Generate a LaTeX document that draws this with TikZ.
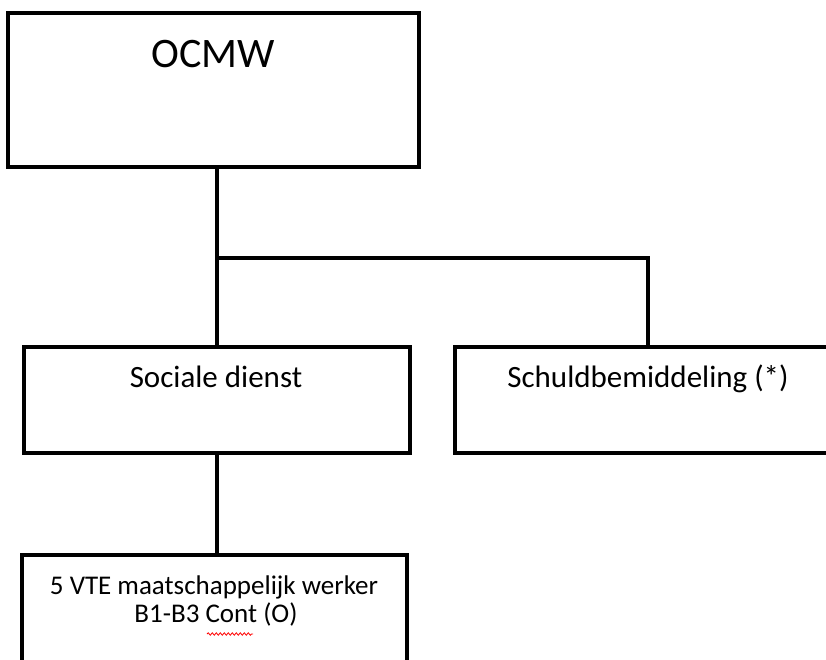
\documentclass[tikz,border=0pt]{standalone}
\usepackage{fontspec}
\setmainfont{Carlito}
\usetikzlibrary{decorations.pathmorphing}
\begin{document}
\begin{tikzpicture}[x=1pt,y=-1pt,
  orgbox/.style={draw=black,line width=4pt,fill=white,inner sep=0pt,outer sep=0pt},
  conn/.style={draw=black,line width=4pt},
  lbl/.style={inner sep=0pt,anchor=base,text=black}]
\useasboundingbox (0,0) rectangle (826,659);
\clip (0,0) rectangle (826,659);
% boxes
\node[orgbox,minimum width=411pt,minimum height=154pt] (ocmw) at (213.5,90) {};
\node[orgbox,minimum width=386pt,minimum height=106pt] (sd) at (217,400) {};
\node[orgbox,minimum width=386pt,minimum height=106pt] (sb) at (648,400) {};
\node[orgbox,minimum width=385pt,minimum height=150pt] (ma) at (214.5,630) {};
% junction
\coordinate (j) at (217,258);
% connectors
\draw[conn] (ocmw.south -| j) -- (j) -- (sd.north);
\draw[conn] (j) -| (sb.north);
\draw[conn] (sd.south) -- (sd.south |- ma.north);
% labels
\node[lbl,font=\fontsize{42}{50}\selectfont] (t1) at (213.5,67) {OCMW};
\node[lbl,font=\fontsize{31}{37}\selectfont] (t2) at (216,387) {Sociale dienst};
\node[lbl,font=\fontsize{31}{37}\selectfont] (t3) at (648,387) {Schuldbemiddeling (*)};
\node[lbl,font=\fontsize{27}{32}\selectfont] (t4) at (214,594) {5 VTE maatschappelijk werker};
\node[lbl,font=\fontsize{27}{32}\selectfont] (t5) at (216,622) {B1-B3 Cont (O)};
% spell-check squiggle
\draw[red,line width=0.8pt,decorate,decoration={snake,amplitude=1.2pt,segment length=4pt}] (207,634) -- (253,634);
\end{tikzpicture}
\end{document}
